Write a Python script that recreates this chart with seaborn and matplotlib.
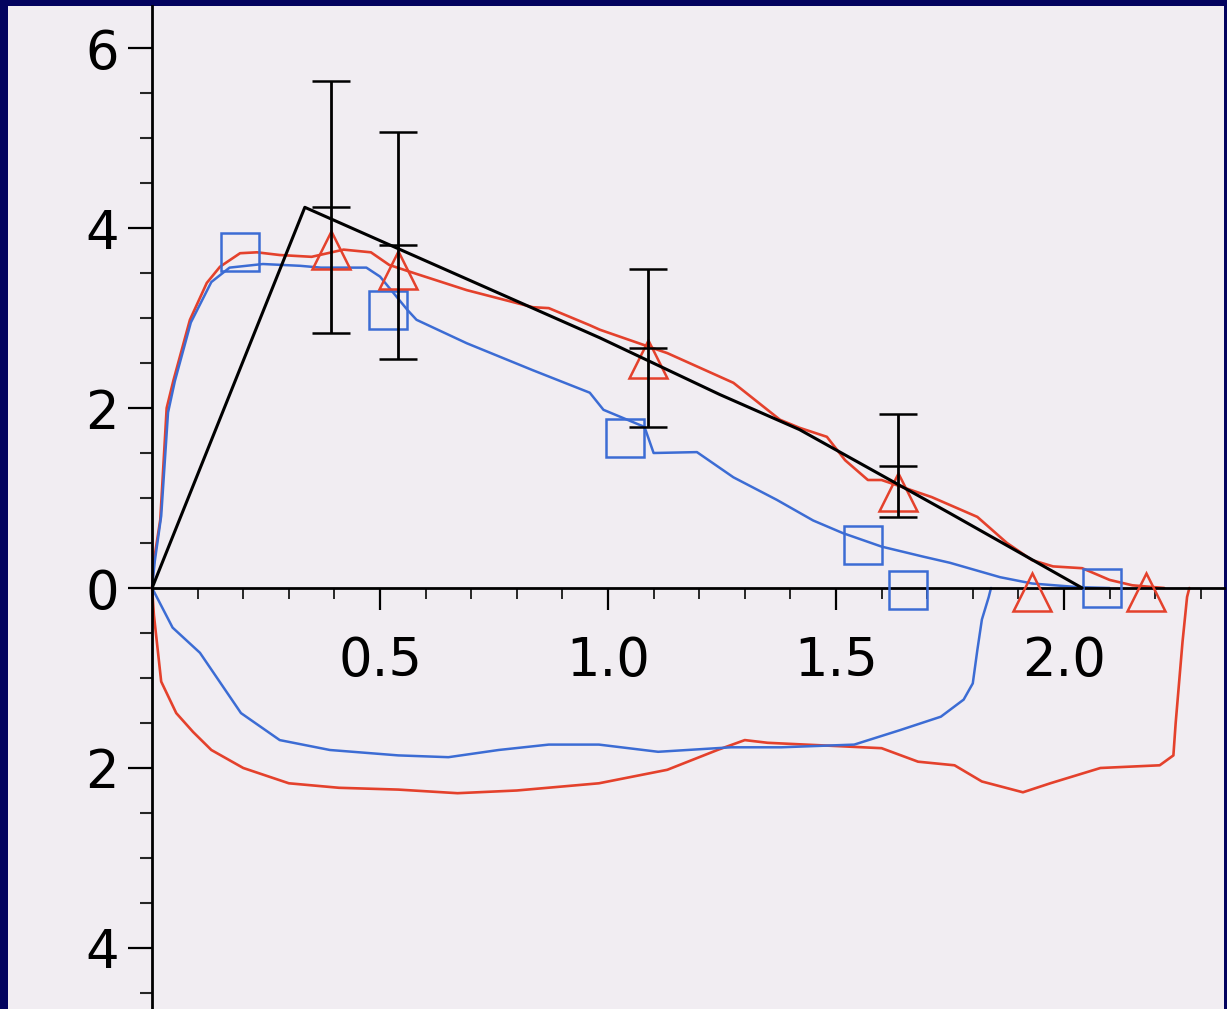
import numpy as np
import matplotlib.pyplot as plt
import seaborn as sns

sns.set_style("white")
plt.rcParams['font.family'] = ['DejaVu Sans']

# ---- data ----
# upper red trace
red_up_x = [0, 0.004, 0.018, 0.032, 0.047, 0.083, 0.12, 0.149, 0.193, 0.23, 0.28, 0.35, 0.42, 0.48,
            0.52, 0.58, 0.69, 0.835, 0.87, 0.96, 0.982, 1.13, 1.275, 1.377, 1.42, 1.48, 1.52,
            1.57, 1.6, 1.71, 1.81, 1.875, 1.93, 1.976, 2.04, 2.1, 2.15, 2.22]
red_up_y = [0, 0.3, 0.76, 2.0, 2.31, 2.98, 3.39, 3.57, 3.72, 3.73, 3.7, 3.68, 3.76, 3.73,
            3.59, 3.49, 3.31, 3.12, 3.11, 2.92, 2.87, 2.61, 2.28, 1.87, 1.78, 1.68, 1.42,
            1.2, 1.2, 1.01, 0.79, 0.5, 0.31, 0.24, 0.22, 0.09, 0.03, 0]
# upper blue trace
blue_up_x = [0, 0.006, 0.02, 0.035, 0.05, 0.085, 0.13, 0.17, 0.243, 0.325, 0.37, 0.47, 0.5, 0.56,
             0.58, 0.69, 0.835, 0.96, 0.99, 1.08, 1.1, 1.195, 1.275, 1.37, 1.45,
             1.515, 1.6, 1.69, 1.75, 1.86, 1.93, 2.03, 2.1]
blue_up_y = [0, 0.3, 0.8, 1.95, 2.3, 2.95, 3.4, 3.56, 3.6, 3.58, 3.56, 3.56, 3.46, 3.09,
             2.98, 2.72, 2.42, 2.17, 1.98, 1.79, 1.5, 1.51, 1.23, 0.98, 0.75,
             0.61, 0.46, 0.35, 0.28, 0.12, 0.05, 0.01, 0]
# lower red trace (drawn below the axis)
red_lo_x = [0, 0.004, 0.02, 0.053, 0.09, 0.13, 0.2, 0.3, 0.41, 0.54, 0.67, 0.8, 0.98, 1.13,
            1.24, 1.3, 1.35, 1.6, 1.68, 1.76, 1.82, 1.91, 1.97, 2.08, 2.21, 2.24, 2.245, 2.26,
            2.27, 2.275]
red_lo_y = [0, -0.3, -1.04, -1.39, -1.6, -1.8, -2.0, -2.17, -2.22, -2.24, -2.28, -2.25, -2.17, -2.02,
            -1.8, -1.69, -1.72, -1.78, -1.93, -1.97, -2.15, -2.27, -2.17, -2.0, -1.97, -1.86, -1.5, -0.6,
            -0.1, 0]
# lower blue trace
blue_lo_x = [0, 0.045, 0.105, 0.195, 0.28, 0.39, 0.54, 0.65, 0.76, 0.87, 0.98, 1.11, 1.27, 1.38,
             1.54, 1.64, 1.73, 1.78, 1.8, 1.81, 1.82, 1.835, 1.84]
blue_lo_y = [0, -0.44, -0.72, -1.39, -1.69, -1.8, -1.86, -1.88, -1.8, -1.74, -1.74, -1.82, -1.77, -1.77,
             -1.74, -1.58, -1.43, -1.24, -1.06, -0.69, -0.35, -0.1, 0]
# square markers (blue)
sq_x = [0.193, 0.518, 1.037, 1.56, 1.658, 2.083]
sq_y = [3.73, 3.09, 1.67, 0.48, -0.02, 0.0]
# triangle markers (red)
tri_x = [0.393, 0.54, 1.088, 1.636, 1.93, 2.18]
tri_y = [3.76, 3.53, 2.55, 1.07, -0.04, -0.04]
# mean +/- error bars
err_x = [0.393, 0.54, 1.088, 1.636]
err_mean = [4.23, 3.81, 2.67, 1.36]
err_sd = [1.4, 1.26, 0.88, 0.57]
# model curve
model_x = [0, 0.335, 0.54, 0.982, 1.245, 1.42, 1.75, 2.04]
model_y = [0, 4.23, 3.77, 2.78, 2.15, 1.76, 0.83, 0]

yticks = [-4, -2, 0, 2, 4, 6]
ytick_labels = ['4', '2', '0', '2', '4', '6']
xticks = [0.5, 1.0, 1.5, 2.0]
xtick_labels = ['0.5', '1.0', '1.5', '2.0']

red = '#e4412c'
blue = '#3c6cd4'
bg = '#f1edf2'

fig = plt.figure(figsize=(12.27, 10.09), dpi=100, facecolor='#03035f')
ax = fig.add_axes([8 / 1227, 0, 1216 / 1227, 1 - 6 / 1009])
ax.set_facecolor(bg)

sns.lineplot(x=red_up_x, y=red_up_y, sort=False, estimator=None, color=red, linewidth=1.9, ax=ax)
sns.lineplot(x=blue_up_x, y=blue_up_y, sort=False, estimator=None, color=blue, linewidth=1.8, ax=ax)
sns.lineplot(x=red_lo_x, y=red_lo_y, sort=False, estimator=None, color=red, linewidth=1.9, ax=ax)
sns.lineplot(x=blue_lo_x, y=blue_lo_y, sort=False, estimator=None, color=blue, linewidth=1.8, ax=ax)

sns.lineplot(x=model_x, y=model_y, sort=False, estimator=None, color='black', linewidth=2.2, ax=ax, zorder=5)

ax.errorbar(err_x, err_mean, yerr=err_sd, fmt='_', color='black', markersize=27, mew=1.8,
            elinewidth=2.0, capsize=13.5, capthick=1.8, zorder=6)

sns.lineplot(x=sq_x, y=sq_y, sort=False, estimator=None, linestyle='', marker='s', markersize=27,
             markerfacecolor='none', markeredgecolor=blue, markeredgewidth=1.8, ax=ax, zorder=4)
sns.lineplot(x=tri_x, y=tri_y, sort=False, estimator=None, linestyle='', marker='^', markersize=28,
             markerfacecolor='none', markeredgecolor=red, markeredgewidth=1.8, ax=ax, zorder=4)

ax.set_xlim(-0.316, 2.351)
ax.set_ylim(-4.678, 6.467)

for s in ['top', 'right']:
    ax.spines[s].set_visible(False)
ax.spines['left'].set_position(('data', 0))
ax.spines['bottom'].set_position(('data', 0))
ax.spines['bottom'].set_bounds(0, 2.351)
for s in ['left', 'bottom']:
    ax.spines[s].set_linewidth(2.0)
    ax.spines[s].set_color('black')

ax.set_yticks(yticks)
ax.set_yticklabels(ytick_labels)
ax.set_xticks(xticks)
ax.set_xticklabels(xtick_labels)
ax.set_yticks(np.arange(-4.5, 6.5, 0.5), minor=True)
ax.set_xticks(np.arange(0.1, 2.35, 0.1), minor=True)

ax.tick_params(axis='y', which='major', direction='out', length=17, width=1.6, pad=7,
               labelsize=38, colors='black', left=True)
ax.tick_params(axis='y', which='minor', direction='out', length=9, width=1.5, left=True)
ax.tick_params(axis='x', which='major', direction='out', length=16, width=1.6, pad=18,
               labelsize=38, colors='black', bottom=True)
ax.tick_params(axis='x', which='minor', direction='out', length=8, width=1.4, bottom=True)
ax.grid(False)

fig.savefig('out.png', dpi=100, facecolor=fig.get_facecolor())
